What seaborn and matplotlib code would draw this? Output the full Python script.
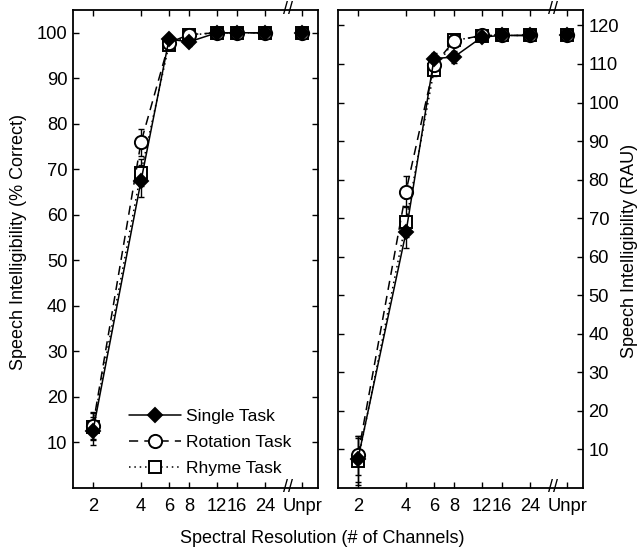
import numpy as np
import pandas as pd
import seaborn as sns
import matplotlib
matplotlib.use('Agg')
from matplotlib import pyplot as plt
from matplotlib.lines import Line2D
import matplotlib.transforms as mtransforms

# channel conditions (Unpr is drawn at its own spot past the axis break)
channels = [2, 4, 6, 8, 12, 16, 24]
unpr_pos = 41
break_pos = 33.4
tick_labels = ['2', '4', '6', '8', '12', '16', '24', 'Unpr']

# % correct (left panel)
single_pc = [12.5, 67.4, 98.6, 98.0, 100, 100, 100]
rotation_pc = [13.7, 75.9, 97.8, 99.6, 100, 100, 100]
rhyme_pc = [13.5, 69.3, 97.4, 99.5, 100, 100, 100]
unpr_pc = {'Single Task': 100, 'Rotation Task': 100, 'Rhyme Task': 100}
single_pc_err = [3, 3.5, 1, 1, 0.5, 0.5, 0.5]
rotation_pc_err = [3, 3, 1, 0.8, 0.5, 0.5, 0.5]
rhyme_pc_err = [3, 3, 1, 0.8, 0.5, 0.5, 0.5]

# RAU (right panel)
single_rau = [7.5, 66.3, 111.4, 111.8, 117.0, 117.4, 117.4]
rotation_rau = [8.5, 76.9, 109.7, 116.0, 117.4, 117.4, 117.4]
rhyme_rau = [6.9, 69.1, 108.4, 116.1, 117.3, 117.4, 117.4]
unpr_rau = {'Single Task': 117.4, 'Rotation Task': 117.6, 'Rhyme Task': 117.6}
single_rau_err = [6, 4, 1.5, 1.5, 1, 1, 1]
rotation_rau_err = [5, 4, 1.5, 1, 1, 1, 1]
rhyme_rau_err = [6, 4, 1.5, 1, 1, 1, 1]

styles = {
    'Single Task': dict(marker='D', ls='-', mfc='black', ms=7.5),
    'Rotation Task': dict(marker='o', ls=(0, (6, 4)), mfc='white', ms=9.5),
    'Rhyme Task': dict(marker='s', ls=(0, (1, 2.5)), mfc='white', ms=8.5),
}

sns.set_theme(style='ticks')
plt.rcParams['font.family'] = ['Liberation Sans', 'DejaVu Sans']
plt.rcParams['text.color'] = 'black'
tick_fs = 13.2
label_fs = 13
legend_fs = 12.5

fig = plt.figure(figsize=(6.44, 5.51), dpi=100)
ax1 = fig.add_axes([73 / 644, 1 - 488 / 551, 245 / 644, 478 / 551])
ax2 = fig.add_axes([338 / 644, 1 - 488 / 551, 245 / 644, 478 / 551])

panels = [
    (ax1, {'Single Task': (single_pc, single_pc_err),
           'Rotation Task': (rotation_pc, rotation_pc_err),
           'Rhyme Task': (rhyme_pc, rhyme_pc_err)}, unpr_pc),
    (ax2, {'Single Task': (single_rau, single_rau_err),
           'Rotation Task': (rotation_rau, rotation_rau_err),
           'Rhyme Task': (rhyme_rau, rhyme_rau_err)}, unpr_rau),
]

for ax, series, unpr in panels:
    for task in ['Rhyme Task', 'Rotation Task', 'Single Task']:
        vals, errs = series[task]
        st = styles[task]
        df = pd.DataFrame({'ch': channels, 'score': vals})
        ax.errorbar(channels + [unpr_pos], vals + [unpr[task]],
                    yerr=errs + [errs[-1]], fmt='none', ecolor='black',
                    elinewidth=1, capsize=2.5, capthick=1, zorder=2)
        sns.lineplot(data=df, x='ch', y='score', ax=ax, color='black',
                     linestyle=st['ls'], linewidth=1.1, marker=st['marker'],
                     markersize=st['ms'], markerfacecolor=st['mfc'],
                     markeredgecolor='black', markeredgewidth=1.4,
                     zorder=3, legend=False)
        ax.plot([unpr_pos], [unpr[task]], linestyle='none', marker=st['marker'],
                ms=st['ms'], mfc=st['mfc'], mec='black', mew=1.4, zorder=3)

    ax.set_xscale('log')
    ax.set_xlim(1.5, 51.5)
    ax.set_xticks(channels + [unpr_pos])
    ax.set_xticklabels(tick_labels)
    ax.minorticks_off()
    ax.set_xlabel('')
    ax.set_ylabel('')
    ax.tick_params(direction='in', length=4.5, width=1, colors='black',
                   top=True, bottom=True, left=True, right=True,
                   labelsize=tick_fs)
    ax.tick_params(axis='x', pad=7)
    ax.tick_params(axis='y', pad=4)
    for sp in ax.spines.values():
        sp.set_visible(True)
        sp.set_linewidth(1.3)
        sp.set_color('black')
    # axis break marks
    trans = mtransforms.blended_transform_factory(ax.transData, ax.transAxes)
    for yy in (0, 1):
        ax.text(break_pos, yy, '//', transform=trans, ha='center', va='center',
                fontsize=13, clip_on=False)

ax1.set_ylim(0, 105)
ax1.set_yticks(np.arange(10, 101, 10))
ax1.tick_params(axis='y', labelleft=True, labelright=False)

ax2.set_ylim(0, 124)
ax2.set_yticks(np.arange(10, 121, 10))
ax2.tick_params(axis='y', labelleft=False, labelright=True)

handles = [Line2D([], [], color='black', linestyle=styles[t]['ls'], linewidth=1.1,
                  marker=styles[t]['marker'], markersize=styles[t]['ms'],
                  markerfacecolor=styles[t]['mfc'], markeredgecolor='black',
                  markeredgewidth=1.4)
           for t in ['Single Task', 'Rotation Task', 'Rhyme Task']]
leg = ax1.legend(handles, ['Single Task', 'Rotation Task', 'Rhyme Task'],
                 loc='lower left', bbox_to_anchor=(0.165, -0.008), frameon=False,
                 handlelength=3.0, handletextpad=0.3, labelspacing=0.62,
                 fontsize=legend_fs)
for t in leg.get_texts():
    t.set_color('black')

fig.text(0.5, 0.022, 'Spectral Resolution (# of Channels)', ha='center',
         va='center', fontsize=label_fs, color='black')
fig.text(0.028, 0.56, 'Speech Intelligibility (% Correct)', rotation=90,
         ha='center', va='center', fontsize=label_fs, color='black')
fig.text(0.978, 0.545, 'Speech Intelligibility (RAU)', rotation=90,
         ha='center', va='center', fontsize=label_fs, color='black')

plt.savefig('out.png', dpi=100)
plt.close()
